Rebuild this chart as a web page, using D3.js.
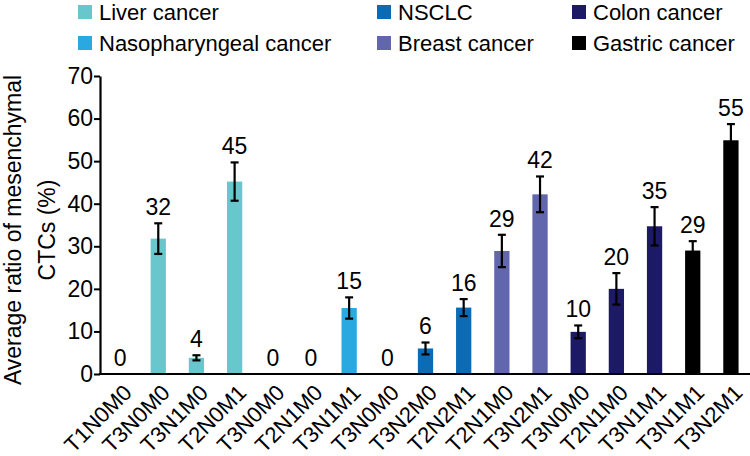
<!DOCTYPE html>
<html>
<head>
<meta charset="utf-8">
<script src="https://cdn.jsdelivr.net/npm/d3@7"></script>
<style>
  body { margin: 0; background: #fff; }
  text { font-family: "Liberation Sans", Arial, sans-serif; fill: #000; }
</style>
</head>
<body>
<script>
// data
var stages = ["T1N0M0","T3N0M0","T3N1M0","T2N0M1","T3N0M0","T2N1M0","T3N1M1","T3N0M0",
              "T3N2M0","T2N2M1","T2N1M0","T3N2M1","T3N0M0","T2N1M0","T3N1M1","T3N1M1","T3N2M1"];
var cancer = ["Liver cancer","Liver cancer","Liver cancer","Liver cancer",
              "Nasopharyngeal cancer","Nasopharyngeal cancer","Nasopharyngeal cancer",
              "NSCLC","NSCLC","NSCLC",
              "Breast cancer","Breast cancer",
              "Colon cancer","Colon cancer","Colon cancer",
              "Gastric cancer","Gastric cancer"];
var means = [0, 31.8, 3.8, 45.2, 0, 0, 15.5, 0, 6.0, 15.6, 28.9, 42.2, 9.9, 20.0, 34.7, 29.0, 54.9];
var errs  = [0, 3.6, 0.6, 4.5, 0, 0, 2.5, 0, 1.4, 2.0, 3.8, 4.2, 1.5, 3.7, 4.5, 2.2, 3.8];
var labels = ["0","32","4","45","0","0","15","0","6","16","29","42","10","20","35","29","55"];
var legendOrder = ["Liver cancer","NSCLC","Colon cancer","Nasopharyngeal cancer","Breast cancer","Gastric cancer"];
var yTicks = [0,10,20,30,40,50,60,70];

var colors = {
  "Liver cancer": "#68c7cd",
  "Nasopharyngeal cancer": "#2aa9e0",
  "NSCLC": "#0b6cb5",
  "Breast cancer": "#6266ad",
  "Colon cancer": "#1c1a65",
  "Gastric cancer": "#000000"
};

var W = 750, H = 456;
var svg = d3.select("body").append("svg").attr("width", W).attr("height", H);

var idx = d3.range(stages.length);
var x = d3.scaleBand().domain(idx).range([101, 750]).paddingInner(0.6).paddingOuter(0.3);
var y = d3.scaleLinear().domain([0, 70]).range([374, 76]);
function cx(i) { return x(i) + x.bandwidth() / 2; }

// bars
svg.selectAll(".bar").data(idx).enter().append("rect")
  .attr("x", function(i) { return x(i); })
  .attr("width", x.bandwidth())
  .attr("y", function(i) { return y(means[i]); })
  .attr("height", function(i) { return y(0) - y(means[i]); })
  .attr("fill", function(i) { return colors[cancer[i]]; });

// error bars
var eb = svg.selectAll(".err").data(idx.filter(function(i) { return errs[i] > 0; }))
  .enter().append("g").attr("stroke", "#000").attr("stroke-width", 2.2);
eb.append("line")
  .attr("x1", cx).attr("x2", cx)
  .attr("y1", function(i) { return y(means[i] + errs[i]); })
  .attr("y2", function(i) { return y(means[i] - errs[i]); });
[1, -1].forEach(function(s) {
  eb.append("line")
    .attr("x1", function(i) { return cx(i) - 4; })
    .attr("x2", function(i) { return cx(i) + 4; })
    .attr("y1", function(i) { return y(means[i] + s * errs[i]); })
    .attr("y2", function(i) { return y(means[i] + s * errs[i]); });
});

// value labels
svg.selectAll(".val").data(idx).enter().append("text")
  .attr("x", cx)
  .attr("y", function(i) { return y(means[i] + errs[i]) - 8; })
  .attr("text-anchor", "middle")
  .style("font-size", "23px")
  .text(function(i) { return labels[i]; });

// y axis
var yAxis = svg.append("g").attr("transform", "translate(100,0)")
  .call(d3.axisLeft(y).tickValues(yTicks).tickSize(6).tickSizeOuter(0));
yAxis.select(".domain").attr("stroke-width", 2.2);
yAxis.selectAll(".tick line").attr("stroke-width", 2);
yAxis.selectAll(".tick text").style("font-size", "23px").attr("x", -7)
  .style("font-family", "'Liberation Sans', Arial, sans-serif");

// x axis line
var xAxis = svg.append("g").attr("transform", "translate(0,374)")
  .call(d3.axisBottom(x).tickSize(0).tickSizeOuter(0).tickFormat(""));
xAxis.select(".domain").attr("stroke-width", 2.2).attr("d", "M99,0H750");

// x labels, rotated
svg.selectAll(".xl").data(idx).enter().append("text")
  .attr("transform", function(i) { return "translate(" + (cx(i) + 13) + ",394) rotate(-45)"; })
  .attr("text-anchor", "end")
  .style("font-size", "22px")
  .text(function(i) { return stages[i]; });

// y title
var yt = svg.append("text")
  .attr("transform", "translate(21,230) rotate(-90)")
  .attr("text-anchor", "middle")
  .style("font-size", "23px");
yt.append("tspan").attr("x", 0).attr("y", 0).text("Average ratio of mesenchymal");
yt.append("tspan").attr("x", 0).attr("y", 34).text("CTCs (%)");

// legend
var legX = [78, 377, 572], legY = [12, 43];
legendOrder.forEach(function(name, k) {
  var gx = legX[k % 3], gy = legY[Math.floor(k / 3)];
  svg.append("rect").attr("x", gx).attr("y", gy - 7).attr("width", 14).attr("height", 14)
    .attr("fill", colors[name]);
  svg.append("text").attr("x", gx + 21).attr("y", gy + 8)
    .style("font-size", "22px").text(name);
});
</script>
</body>
</html>
